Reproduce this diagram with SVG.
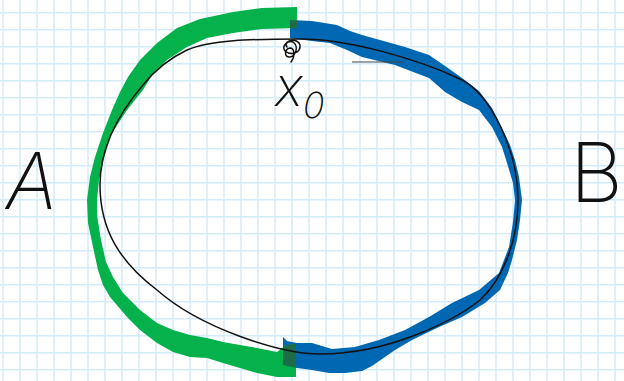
<svg xmlns="http://www.w3.org/2000/svg" xmlns:xlink="http://www.w3.org/1999/xlink" width="624" height="381" viewBox="0 0 624 381">
<style>
.grid line{stroke:#d4ebfa;stroke-width:1.5}
.hand{font-family:Inter,Roboto,"DejaVu Sans",sans-serif;font-weight:200;fill:#111}
.ink{fill:none;stroke:#111;stroke-width:1.5;stroke-linejoin:round;stroke-linecap:round}
</style>
<defs>
<path id="bluePath" d="M290,20 L312,21 L337,25 L350,31 L362,35 L380,40 L405,47 L429,55 L445,66 L462,78 L479,91 L492,108 L502,128 L510,145 L515,160 L519,177 L522,200 L520,220 L517,240 L512,260 L508,273 L500,290 L485,303 L462,317 L439,327 L412,340 L395,350 L372,366 L362,371 L345,373 L329,373 L312,370 L297,368 L283,365 L283,337 L287,341 L297,343 L312,343 L332,349 L355,347 L379,340 L405,330 L429,317 L452,303 L479,290 L499,273 L509,247 L513,222 L515,200 L513,183 L507,163 L502,147 L492,127 L479,110 L462,102 L445,92 L429,78 L395,65 L362,57 L347,50 L330,43 L312,41 L290,38 Z"/>
<path id="greenPath" d="M297,7 L262,8 L233,12 L200,19 L177,28 L157,43 L140,60 L128,77 L120,92 L112,110 L103,133 L95,157 L90,177 L87,200 L88,223 L93,247 L98,270 L103,285 L110,297 L127,317 L140,330 L157,343 L173,352 L190,357 L207,358 L223,363 L240,368 L257,373 L277,377 L296,377 L296,344 L286,345 L277,352 L257,348 L240,345 L223,342 L207,338 L190,335 L173,330 L157,323 L140,310 L123,293 L113,277 L106,262 L101,240 L97,215 L97,200 L99,180 L104,157 L112,133 L127,110 L143,90 L152,75 L167,60 L187,47 L207,38 L233,33 L262,29 L297,28 Z"/>
<clipPath id="blueClip"><use xlink:href="#bluePath"/></clipPath>
</defs>
<g class="grid">
<line x1="3" y1="0" x2="3" y2="381"/><line x1="20" y1="0" x2="20" y2="381"/><line x1="37" y1="0" x2="37" y2="381"/><line x1="54" y1="0" x2="54" y2="381"/><line x1="71" y1="0" x2="71" y2="381"/><line x1="88" y1="0" x2="88" y2="381"/><line x1="105" y1="0" x2="105" y2="381"/><line x1="122" y1="0" x2="122" y2="381"/><line x1="139" y1="0" x2="139" y2="381"/><line x1="156" y1="0" x2="156" y2="381"/><line x1="173" y1="0" x2="173" y2="381"/><line x1="190" y1="0" x2="190" y2="381"/><line x1="207" y1="0" x2="207" y2="381"/><line x1="224" y1="0" x2="224" y2="381"/><line x1="241" y1="0" x2="241" y2="381"/><line x1="258" y1="0" x2="258" y2="381"/><line x1="275" y1="0" x2="275" y2="381"/><line x1="292" y1="0" x2="292" y2="381"/><line x1="309" y1="0" x2="309" y2="381"/><line x1="326" y1="0" x2="326" y2="381"/><line x1="343" y1="0" x2="343" y2="381"/><line x1="360" y1="0" x2="360" y2="381"/><line x1="377" y1="0" x2="377" y2="381"/><line x1="394" y1="0" x2="394" y2="381"/><line x1="411" y1="0" x2="411" y2="381"/><line x1="428" y1="0" x2="428" y2="381"/><line x1="445" y1="0" x2="445" y2="381"/><line x1="462" y1="0" x2="462" y2="381"/><line x1="479" y1="0" x2="479" y2="381"/><line x1="496" y1="0" x2="496" y2="381"/><line x1="513" y1="0" x2="513" y2="381"/><line x1="530" y1="0" x2="530" y2="381"/><line x1="547" y1="0" x2="547" y2="381"/><line x1="564" y1="0" x2="564" y2="381"/><line x1="581" y1="0" x2="581" y2="381"/><line x1="598" y1="0" x2="598" y2="381"/><line x1="615" y1="0" x2="615" y2="381"/>
<line x1="0" y1="12.7" x2="624" y2="12.7"/><line x1="0" y1="29.7" x2="624" y2="29.7"/><line x1="0" y1="46.7" x2="624" y2="46.7"/><line x1="0" y1="63.7" x2="624" y2="63.7"/><line x1="0" y1="80.7" x2="624" y2="80.7"/><line x1="0" y1="97.7" x2="624" y2="97.7"/><line x1="0" y1="114.7" x2="624" y2="114.7"/><line x1="0" y1="131.7" x2="624" y2="131.7"/><line x1="0" y1="148.7" x2="624" y2="148.7"/><line x1="0" y1="165.7" x2="624" y2="165.7"/><line x1="0" y1="182.7" x2="624" y2="182.7"/><line x1="0" y1="199.7" x2="624" y2="199.7"/><line x1="0" y1="216.7" x2="624" y2="216.7"/><line x1="0" y1="233.7" x2="624" y2="233.7"/><line x1="0" y1="250.7" x2="624" y2="250.7"/><line x1="0" y1="267.7" x2="624" y2="267.7"/><line x1="0" y1="284.7" x2="624" y2="284.7"/><line x1="0" y1="301.7" x2="624" y2="301.7"/><line x1="0" y1="318.7" x2="624" y2="318.7"/><line x1="0" y1="335.7" x2="624" y2="335.7"/><line x1="0" y1="352.7" x2="624" y2="352.7"/><line x1="0" y1="369.7" x2="624" y2="369.7"/>
</g>
<g id="arcB"><use xlink:href="#bluePath" fill="#0067b2"/></g>
<g id="arcA"><use xlink:href="#greenPath" fill="#05b14a"/><use xlink:href="#greenPath" fill="#1f6b49" clip-path="url(#blueClip)"/></g>
<g id="connectors">
<path class="ink" d="M300,39 C350,39 420,60 460,79 C490,93 518,150 518,200 C518,245 500,282 480,300 C455,320 390,354 320,354 C280,354 200,328 157,290 C120,262 100,230 100,185 C100,145 120,112 143,85 C155,70 170,58 187,50 C210,40 250,39 300,39 Z"/>
<line x1="352" y1="62" x2="403" y2="62" stroke="#444" stroke-width="1.2"/>
</g>
<g id="x0">
<path class="ink" stroke-width="1.3" d="M287,47 C282,40 298,37 300,45 C301,53 291,56 285,51 C281,46 288,40 293,42 C299,46 296,56 290,57 C284,58 284,49 290,48 C295,48 295,57 291,62"/>
<text class="hand" x="275" y="106" font-size="54" font-style="italic">x<tspan font-size="36" dy="12">0</tspan></text>
</g>
<g id="A"><text class="hand" x="6" y="209" font-size="78" font-style="italic">A</text></g>
<g id="B"><text class="hand" x="570" y="202" font-size="82">B</text></g>
</svg>
